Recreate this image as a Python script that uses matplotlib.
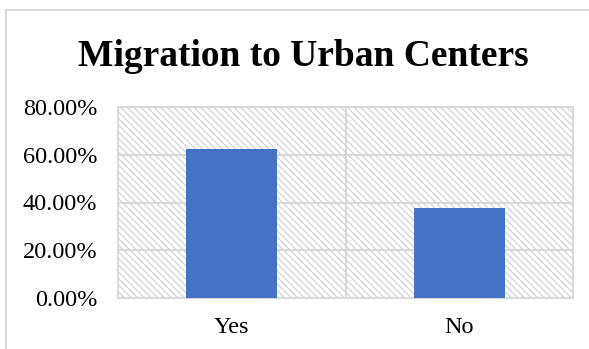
import matplotlib.pyplot as plt
from matplotlib.patches import Rectangle
from matplotlib.ticker import PercentFormatter

# Survey answers and their shares (percent)
answers = ["Yes", "No"]
shares = [62.5, 37.5]
y_ticks = [0, 20, 40, 60, 80]

plt.rcParams['font.family'] = ['Liberation Serif', 'DejaVu Serif']
plt.rcParams['hatch.color'] = '#d6d6d6'
plt.rcParams['hatch.linewidth'] = 1.0

fig = plt.figure(figsize=(5.89, 3.49), dpi=100)

# chart frame, open on the right and bottom
fig.patches.append(Rectangle((6 / 589, -0.1), 1.2, 1 - 10 / 349 + 0.1,
                             transform=fig.transFigure, fill=False,
                             edgecolor='#d9d9d9', linewidth=1.5))

ax = fig.add_axes([118 / 589, 1 - 298 / 349, (573 - 118) / 589, (298 - 107) / 349])

# hatched plot area
ax.add_patch(Rectangle((0, 0), 1, 1, transform=ax.transAxes, facecolor='white',
                       hatch='\\\\\\\\\\', edgecolor='#d6d6d6', linewidth=0, zorder=0))

x = range(len(answers))
ax.bar(x, shares, width=0.4, color='#4472c4', zorder=3)

ax.set_xlim(-0.5, 1.5)
ax.set_ylim(0, 80)
ax.set_yticks(y_ticks)
ax.yaxis.set_major_formatter(PercentFormatter(decimals=2))
ax.set_xticks(list(x))
ax.set_xticklabels(answers)

# horizontal gridlines and a divider between categories
for t in y_ticks:
    ax.axhline(t, color='#d9d9d9', linewidth=1.5, zorder=1)
ax.axvline(0.5, color='#d9d9d9', linewidth=1.5, zorder=1)

for s in ax.spines.values():
    s.set_color('#d9d9d9')
    s.set_linewidth(1.5)

ax.tick_params(length=0, labelsize=17.5, colors='black')
ax.tick_params(axis='y', pad=15)
ax.tick_params(axis='x', pad=14)

fig.text(303 / 589, 1 - 56 / 349, "Migration to Urban Centers", ha='center', va='center',
         fontsize=27, fontweight='bold')

fig.savefig("out.png", dpi=100)
